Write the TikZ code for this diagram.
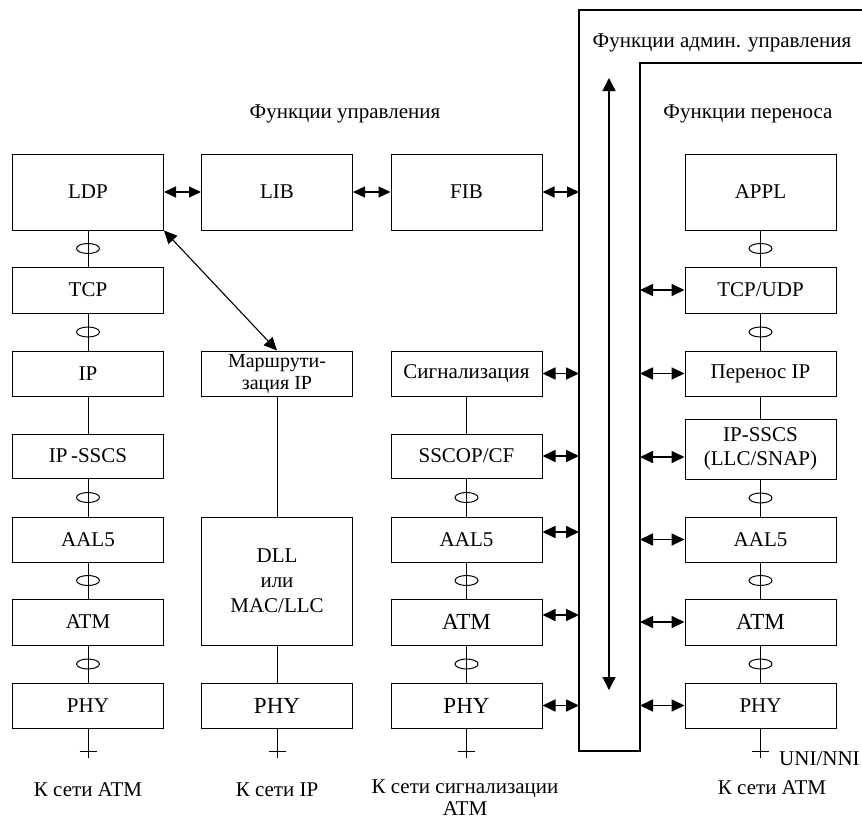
\documentclass[tikz,border=0pt]{standalone}
\usepackage{fontspec}
\setmainfont{Liberation Serif}
\usetikzlibrary{arrows.meta,shapes.geometric}
\begin{document}
\begin{tikzpicture}[x=1pt,y=-1pt,
  layer/.style={draw, line width=1pt, minimum width=151pt, minimum height=46pt,
    inner sep=0pt, align=center, font=\fontsize{21}{24}\selectfont},
  biglayer/.style={layer, font=\fontsize{23}{26}\selectfont},
  smalllayer/.style={layer, font=\fontsize{20}{22}\selectfont},
  link/.style={line width=1pt},
  sapmark/.style={draw, ellipse, line width=1pt, minimum width=23pt,
    minimum height=10pt, inner sep=0pt},
  dbl/.style={line width=1.7pt, {Triangle[length=13pt,width=12pt]}-{Triangle[length=13pt,width=12pt]}},
  dblthin/.style={line width=1.1pt, {Triangle[length=12pt,width=11pt]}-{Triangle[length=12pt,width=11pt]}},
  caption/.style={font=\fontsize{21}{24}\selectfont, inner sep=0pt}
]
\useasboundingbox (0,0) rectangle (862,822);

% --- column 1: LDP stack towards ATM
\node[layer, minimum height=76pt] (ldp) at (88,192) {LDP};
\node[layer] (tcp) at (88,290) {TCP};
\node[layer, minimum height=45pt] (ip) at (88,373.5) {IP};
\node[layer, minimum height=44pt] (ipsscs) at (88,456) {IP\,-SSCS};
\node[layer, minimum height=45pt] (aal1) at (88,539.5) {AAL5};
\node[layer] (atm1) at (88,622) {ATM};
\node[layer, minimum height=45pt] (phy1) at (88,705.5) {PHY};

% --- column 2: IP routing
\node[layer, minimum height=76pt] (lib) at (277,192) {LIB};
\node[smalllayer, minimum height=45pt] (route) at (277,373.5) {Маршрути-\\зация IP};
\node[layer, minimum height=128pt, font=\fontsize{21}{25}\selectfont] (dll) at (277,581) {DLL\\или\\MAC/LLC};
\node[biglayer, minimum height=45pt] (phy2) at (277,705.5) {PHY};

% --- column 3: signalling
\node[layer, minimum height=76pt] (fib) at (466.5,192) {FIB};
\node[layer, minimum height=45pt] (sig) at (466.5,373.5) {Сигнализация};
\node[layer, minimum height=44pt] (sscop) at (466.5,456) {SSCOP/CF};
\node[layer, minimum height=45pt] (aal3) at (466.5,539.5) {AAL5};
\node[biglayer] (atm3) at (466.5,622) {ATM};
\node[biglayer, minimum height=45pt] (phy3) at (466.5,705.5) {PHY};

% --- column 4: transfer plane
\node[layer, minimum height=76pt] (appl) at (760.5,192) {APPL};
\node[layer] (tcpudp) at (760.5,290) {TCP/UDP};
\node[layer, minimum height=45pt] (perenos) at (760.5,373.5) {Перенос IP};
\node[layer, minimum height=60pt] (ipsscs4) at (760.5,449) {IP-SSCS\\(LLC/SNAP)};
\node[layer, minimum height=45pt] (aal4) at (760.5,539.5) {AAL5};
\node[biglayer] (atm4) at (760.5,622) {ATM};
\node[layer, minimum height=45pt] (phy4) at (760.5,705.5) {PHY};

% --- vertical links, with SAP marks where present
\draw[link] (ldp) -- node[sapmark] (s11) {} (tcp);
\draw[link] (tcp) -- node[sapmark] (s12) {} (ip);
\draw[link] (ip) -- (ipsscs);
\draw[link] (ipsscs) -- node[sapmark] (s13) {} (aal1);
\draw[link] (aal1) -- node[sapmark] (s14) {} (atm1);
\draw[link] (atm1) -- node[sapmark] (s15) {} (phy1);

\draw[link] (route) -- (dll);
\draw[link] (dll) -- (phy2);

\draw[link] (sig) -- (sscop);
\draw[link] (sscop) -- node[sapmark] (s31) {} (aal3);
\draw[link] (aal3) -- node[sapmark] (s32) {} (atm3);
\draw[link] (atm3) -- node[sapmark] (s33) {} (phy3);

\draw[link] (appl) -- node[sapmark] (s41) {} (tcpudp);
\draw[link] (tcpudp) -- node[sapmark] (s42) {} (perenos);
\draw[link] (perenos) -- (ipsscs4);
\draw[link] (ipsscs4) -- node[sapmark] (s43) {} (aal4);
\draw[link] (aal4) -- node[sapmark] (s44) {} (atm4);
\draw[link] (atm4) -- node[sapmark] (s45) {} (phy4);

% --- network attachment points
\coordinate (t1) at (88,758);
\coordinate (t2) at (277,758);
\coordinate (t3) at (466.5,758);
\coordinate (t4) at (760.5,758);
\foreach \p/\t in {phy1/t1, phy2/t2, phy3/t3, phy4/t4} {
  \draw[link] (\p) -- (\t);
  \draw[link] ([xshift=-8.5pt,yshift=7pt]\t) -- ([xshift=8.5pt,yshift=7pt]\t);
}

% --- management frames
\coordinate (fL) at (579,0);
\coordinate (iL) at (640,0);
\draw[line width=1.2pt] (862,10) -- (579,10) -- (579,751) -- (640,751) -- (640,63) -- (862,63);

% --- management arrow inside the frame
\coordinate (admTop) at (609,78);
\coordinate (admBot) at (609,690);
\draw[line width=1.2pt, {Triangle[length=13pt,width=13pt]}-{Triangle[length=13pt,width=13pt]}] (admTop) -- (admBot);

% --- control plane arrows
\draw[dblthin] (ldp) -- (lib);
\draw[dblthin] (lib) -- (fib);
\draw[dblthin] (fib.east) -- (fib.east -| fL);
\draw[dblthin, {Triangle[length=13pt,width=12pt]}-{Triangle[length=13pt,width=12pt]}] (ldp.south east) -- (route.north);

\draw[dbl] (sig.east) -- (sig.east -| fL);
\draw[dbl] (sscop.east) -- (sscop.east -| fL);
\draw[dbl] ([yshift=7.5pt]aal3.east) -- ([yshift=7.5pt]aal3.east -| fL);
\draw[dbl] ([yshift=7pt]atm3.east) -- ([yshift=7pt]atm3.east -| fL);
\draw[dbl] (phy3.east) -- (phy3.east -| fL);

% --- transfer plane arrows
\draw[dbl] (tcpudp.west -| iL) -- (tcpudp.west);
\draw[dbl] (perenos.west -| iL) -- (perenos.west);
\draw[dbl] ([yshift=-8pt]ipsscs4.west -| iL) -- ([yshift=-8pt]ipsscs4.west);
\draw[dbl] (aal4.west -| iL) -- (aal4.west);
\draw[dbl] (atm4.west -| iL) -- (atm4.west);
\draw[dbl] (phy4.west -| iL) -- (phy4.west);

% --- captions
\node[caption] (hdrCtl) at (345,114) {Функции управления};
\node[caption] (hdrAdm) at (722,43) {Функции админ. управления};
\node[caption] (hdrXfer) at (748,114) {Функции переноса};
\node[caption] (net1) at (88,790) {К сети ATM};
\node[caption] (net2) at (277,790) {К сети IP};
\node[caption, align=center, font=\fontsize{21}{22}\selectfont] (net3) at (465,798) {К сети сигнализации\\ATM};
\node[caption] (net4) at (772,788) {К сети ATM};
\node[caption, anchor=west] (uni) at (779,759) {UNI/NNI};
\end{tikzpicture}
\end{document}
